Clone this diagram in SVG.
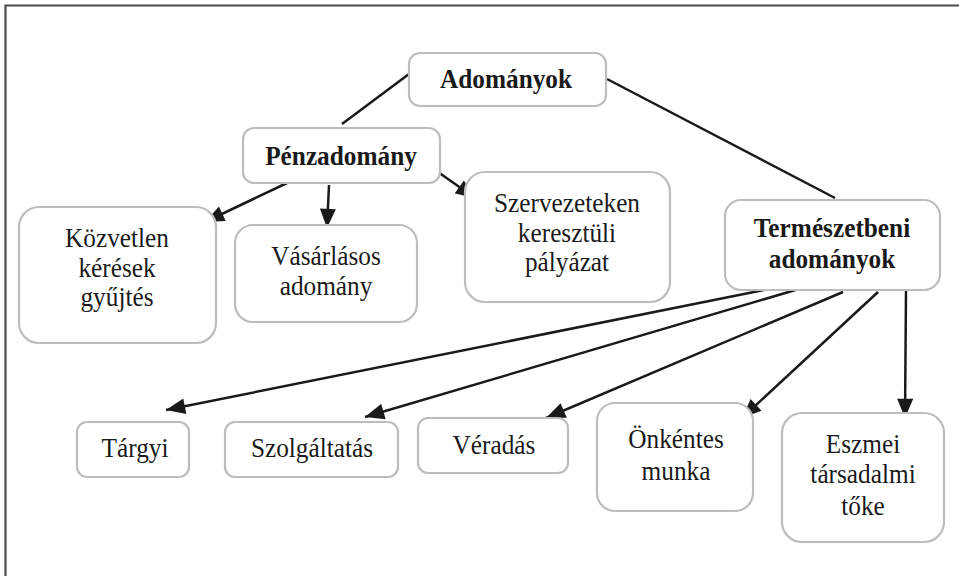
<svg xmlns="http://www.w3.org/2000/svg" width="959" height="576" viewBox="0 0 959 576">
<style>
.box{fill:#fff;stroke:#bdbdbd;stroke-width:2.2}
.t{font-family:"Liberation Serif","Times New Roman",serif;font-size:27.5px;fill:#1a1a1a;text-anchor:middle}
.b{font-weight:bold}
.ln{stroke:#1a1a1a;stroke-width:2.5;fill:none}
.ar{marker-end:url(#ah)}
</style>
<defs>
<marker id="ah" markerUnits="userSpaceOnUse" markerWidth="20" markerHeight="16" refX="18" refY="7.5" orient="auto" viewBox="0 0 18 15">
<path d="M0,0 L18,7.5 L0,15 z" fill="#1a1a1a"/>
</marker>
</defs>
<rect width="959" height="576" fill="#fff"/>
<path d="M5.5,576 V5.5 H959" fill="none" stroke="#4a4a4a" stroke-width="2.2"/>
<g id="connectors">
<line class="ln" x1="409" y1="74" x2="342" y2="124"/>
<line class="ln" x1="607" y1="79" x2="835" y2="198"/>
<line class="ln ar" x1="287" y1="183" x2="205" y2="222"/>
<line class="ln ar" x1="329" y1="185" x2="327" y2="228"/>
<line class="ln ar" x1="438" y1="172" x2="475" y2="198"/>
<line class="ln ar" x1="764" y1="290" x2="166" y2="410"/>
<line class="ln ar" x1="809" y1="286" x2="365" y2="417"/>
<line class="ln ar" x1="843" y1="292" x2="546" y2="418"/>
<line class="ln ar" x1="878" y1="292" x2="742" y2="418"/>
<line class="ln ar" x1="906" y1="290" x2="905" y2="418"/>
</g>
<g id="adomanyok">
<rect class="box" x="409" y="53" width="197" height="53" rx="11"/>
<g transform="translate(506 0) scale(0.92 1)"><text class="t b" x="0" y="88">Adományok</text></g>
</g>
<g id="penzadomany">
<rect class="box" x="243" y="128" width="197" height="55" rx="11"/>
<g transform="translate(341 0) scale(0.92 1)"><text class="t b" x="0" y="165">Pénzadomány</text></g>
</g>
<g id="kozvetlen">
<rect class="box" x="19" y="207" width="197" height="136" rx="20"/>
<g transform="translate(117 0) scale(0.92 1)">
<text class="t" x="0" y="247">Közvetlen</text>
<text class="t" x="0" y="277">kérések</text>
<text class="t" x="0" y="306">gyűjtés</text>
</g>
</g>
<g id="vasarlasos">
<rect class="box" x="235" y="225" width="182" height="97" rx="18"/>
<g transform="translate(326 0) scale(0.92 1)">
<text class="t" x="0" y="265">Vásárlásos</text>
<text class="t" x="0" y="295">adomány</text>
</g>
</g>
<g id="szervezeteken">
<rect class="box" x="465" y="172" width="205" height="130" rx="20"/>
<g transform="translate(567 0) scale(0.92 1)">
<text class="t" x="0" y="212">Szervezeteken</text>
<text class="t" x="0" y="242">keresztüli</text>
<text class="t" x="0" y="271">pályázat</text>
</g>
</g>
<g id="termeszetbeni">
<rect class="box" x="725" y="200" width="215" height="90" rx="16"/>
<g transform="translate(832 0) scale(0.92 1)">
<text class="t b" x="0" y="237">Természetbeni</text>
<text class="t b" x="0" y="268">adományok</text>
</g>
</g>
<g id="targyi">
<rect class="box" x="77" y="422" width="112" height="55" rx="10"/>
<g transform="translate(135 0) scale(0.92 1)"><text class="t" x="0" y="457">Tárgyi</text></g>
</g>
<g id="szolgaltatas">
<rect class="box" x="225" y="422" width="173" height="55" rx="10"/>
<g transform="translate(312 0) scale(0.92 1)"><text class="t" x="0" y="457">Szolgáltatás</text></g>
</g>
<g id="veradas">
<rect class="box" x="418" y="418" width="150" height="55" rx="10"/>
<g transform="translate(494 0) scale(0.92 1)"><text class="t" x="0" y="454">Véradás</text></g>
</g>
<g id="onkentes">
<rect class="box" x="597" y="403" width="156" height="108" rx="18"/>
<g transform="translate(676 0) scale(0.92 1)">
<text class="t" x="0" y="448">Önkéntes</text>
<text class="t" x="0" y="480">munka</text>
</g>
</g>
<g id="eszmei">
<rect class="box" x="782" y="413" width="162" height="129" rx="20"/>
<g transform="translate(863 0) scale(0.92 1)">
<text class="t" x="0" y="453">Eszmei</text>
<text class="t" x="0" y="483">társadalmi</text>
<text class="t" x="0" y="515">tőke</text>
</g>
</g>
</svg>
